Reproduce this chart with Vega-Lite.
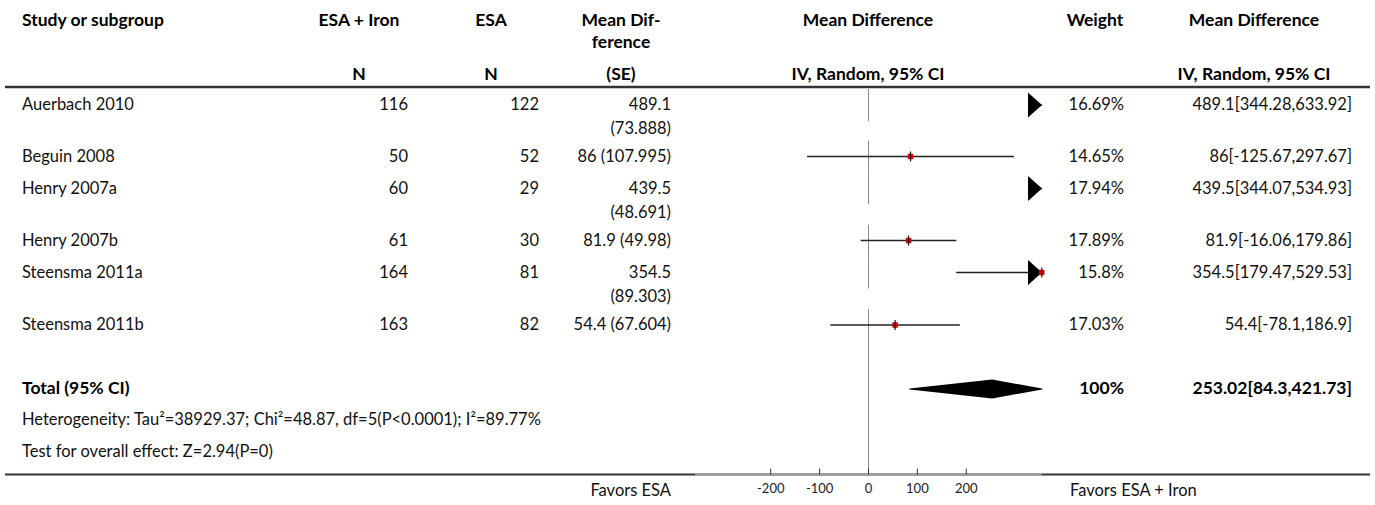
{
  "$schema": "https://vega.github.io/schema/vega-lite/v6.json",
  "width": 1375,
  "height": 474,
  "autosize": {"type": "none"},
  "padding": {"left": 0, "top": 0, "right": 0, "bottom": 31},
  "config": {
    "view": {"stroke": null},
    "text": {"font": "Lato", "fontSize": 16.5, "color": "#111", "baseline": "middle"}
  },
  "datasets": {
    "studies": [
      {"row": 0, "study": "Auerbach 2010", "n1": 116, "n2": 122, "mdse": "489.1\n(73.888)", "md": 489.1, "lo": 344.28, "hi": 633.92, "weight": "16.69%", "ci": "489.1[344.28,633.92]"},
      {"row": 1, "study": "Beguin 2008", "n1": 50, "n2": 52, "mdse": "86 (107.995)", "md": 86, "lo": -125.67, "hi": 297.67, "weight": "14.65%", "ci": "86[-125.67,297.67]"},
      {"row": 2, "study": "Henry 2007a", "n1": 60, "n2": 29, "mdse": "439.5\n(48.691)", "md": 439.5, "lo": 344.07, "hi": 534.93, "weight": "17.94%", "ci": "439.5[344.07,534.93]"},
      {"row": 3, "study": "Henry 2007b", "n1": 61, "n2": 30, "mdse": "81.9 (49.98)", "md": 81.9, "lo": -16.06, "hi": 179.86, "weight": "17.89%", "ci": "81.9[-16.06,179.86]"},
      {"row": 4, "study": "Steensma 2011a", "n1": 164, "n2": 81, "mdse": "354.5\n(89.303)", "md": 354.5, "lo": 179.47, "hi": 529.53, "weight": "15.8%", "ci": "354.5[179.47,529.53]"},
      {"row": 5, "study": "Steensma 2011b", "n1": 163, "n2": 82, "mdse": "54.4 (67.604)", "md": 54.4, "lo": -78.1, "hi": 186.9, "weight": "17.03%", "ci": "54.4[-78.1,186.9]"}
    ],
    "total": [
      {"row": 6, "label": "Total (95% CI)", "md": 253.02, "lo": 84.3, "hi": 421.73, "weight": "100%", "ci": "253.02[84.3,421.73]"}
    ],
    "notes": [
      {"row": 7, "text": "Heterogeneity: Tau²=38929.37; Chi²=48.87, df=5(P<0.0001); I²=89.77%"},
      {"row": 8, "text": "Test for overall effect: Z=2.94(P=0)"}
    ],
    "ticks": [{"v": -200, "label": "-200"}, {"v": -100, "label": "-100"}, {"v": 0, "label": "0"}, {"v": 100, "label": "100"}, {"v": 200, "label": "200"}],
    "one": [{"k": 0}]
  },
  "layer": [
    {
      "layer": [
        {
          "data": {"name": "one"},
          "mark": {"type": "rule", "color": "#333", "strokeWidth": 2.5},
          "encoding": {
            "x": {"datum": 0, "type": "quantitative", "axis": null,
              "scale": {"domain": [0, 1, 2, 3, 4, 5, 6, 7, 8, 9, 10, 11, 12, 13, 14],
                "range": [5, 22, 359, 408, 491, 539, 621, 671, 868, 1070, 1095, 1124, 1254, 1352, 1370],
                "zero": false, "nice": false}},
            "x2": {"datum": 14},
            "y": {"datum": -0.5, "type": "quantitative", "axis": null,
              "scale": {
                "domain": [-2, -1, -0.5, 0, 1, 2, 3, 4, 5, 6, 7, 8, 8.5, 9],
                "range": [21, 75, 87, 105, 156.5, 188.5, 240.5, 272.5, 325, 389, 420, 452, 474.5, 491],
                "zero": false, "nice": false}}
          }
        },
        {
          "data": {"name": "one"},
          "mark": {"type": "rule", "color": "#333", "strokeWidth": 2},
          "encoding": {
            "x": {"datum": 0, "type": "quantitative", "axis": null},
            "x2": {"datum": 14},
            "y": {"datum": 8.5, "type": "quantitative", "axis": null}
          }
        },
        {
          "data": {"name": "one"},
          "mark": {"type": "text", "text": "Study or subgroup", "align": "left", "fontWeight": "bold", "fontSize": 17.5, "color": "#000"},
          "encoding": {"x": {"datum": 1, "type": "quantitative", "axis": null}, "y": {"datum": -2, "type": "quantitative", "axis": null}}
        },
        {
          "data": {"name": "one"},
          "mark": {"type": "text", "text": "ESA + Iron", "align": "center", "fontWeight": "bold", "fontSize": 17.5, "color": "#000"},
          "encoding": {"x": {"datum": 2, "type": "quantitative", "axis": null}, "y": {"datum": -2, "type": "quantitative", "axis": null}}
        },
        {
          "data": {"name": "one"},
          "mark": {"type": "text", "text": "N", "align": "center", "fontWeight": "bold", "fontSize": 17.5, "color": "#000"},
          "encoding": {"x": {"datum": 2, "type": "quantitative", "axis": null}, "y": {"datum": -1, "type": "quantitative", "axis": null}}
        },
        {
          "data": {"name": "one"},
          "mark": {"type": "text", "text": "ESA", "align": "center", "fontWeight": "bold", "fontSize": 17.5, "color": "#000"},
          "encoding": {"x": {"datum": 4, "type": "quantitative", "axis": null}, "y": {"datum": -2, "type": "quantitative", "axis": null}}
        },
        {
          "data": {"name": "one"},
          "mark": {"type": "text", "text": "N", "align": "center", "fontWeight": "bold", "fontSize": 17.5, "color": "#000"},
          "encoding": {"x": {"datum": 4, "type": "quantitative", "axis": null}, "y": {"datum": -1, "type": "quantitative", "axis": null}}
        },
        {
          "data": {"name": "one"},
          "mark": {"type": "text", "text": ["Mean Dif-", "ference"], "align": "center", "baseline": "top", "dy": -9, "lineHeight": 22, "fontWeight": "bold", "fontSize": 17.5, "color": "#000"},
          "encoding": {"x": {"datum": 6, "type": "quantitative", "axis": null}, "y": {"datum": -2, "type": "quantitative", "axis": null}}
        },
        {
          "data": {"name": "one"},
          "mark": {"type": "text", "text": "(SE)", "align": "center", "fontWeight": "bold", "fontSize": 17.5, "color": "#000"},
          "encoding": {"x": {"datum": 6, "type": "quantitative", "axis": null}, "y": {"datum": -1, "type": "quantitative", "axis": null}}
        },
        {
          "data": {"name": "one"},
          "mark": {"type": "text", "text": "Mean Difference", "align": "center", "fontWeight": "bold", "fontSize": 17.5, "color": "#000"},
          "encoding": {"x": {"datum": 8, "type": "quantitative", "axis": null}, "y": {"datum": -2, "type": "quantitative", "axis": null}}
        },
        {
          "data": {"name": "one"},
          "mark": {"type": "text", "text": "IV, Random, 95% CI", "align": "center", "fontWeight": "bold", "fontSize": 17.5, "color": "#000"},
          "encoding": {"x": {"datum": 8, "type": "quantitative", "axis": null}, "y": {"datum": -1, "type": "quantitative", "axis": null}}
        },
        {
          "data": {"name": "one"},
          "mark": {"type": "text", "text": "Weight", "align": "center", "fontWeight": "bold", "fontSize": 17.5, "color": "#000"},
          "encoding": {"x": {"datum": 10, "type": "quantitative", "axis": null}, "y": {"datum": -2, "type": "quantitative", "axis": null}}
        },
        {
          "data": {"name": "one"},
          "mark": {"type": "text", "text": "Mean Difference", "align": "center", "fontWeight": "bold", "fontSize": 17.5, "color": "#000"},
          "encoding": {"x": {"datum": 12, "type": "quantitative", "axis": null}, "y": {"datum": -2, "type": "quantitative", "axis": null}}
        },
        {
          "data": {"name": "one"},
          "mark": {"type": "text", "text": "IV, Random, 95% CI", "align": "center", "fontWeight": "bold", "fontSize": 17.5, "color": "#000"},
          "encoding": {"x": {"datum": 12, "type": "quantitative", "axis": null}, "y": {"datum": -1, "type": "quantitative", "axis": null}}
        },
        {
          "data": {"name": "studies"},
          "mark": {"type": "text", "align": "left"},
          "encoding": {"x": {"datum": 1, "type": "quantitative", "axis": null}, "y": {"field": "row", "type": "quantitative", "axis": null}, "text": {"field": "study"}}
        },
        {
          "data": {"name": "studies"},
          "mark": {"type": "text", "align": "right"},
          "encoding": {"x": {"datum": 3, "type": "quantitative", "axis": null}, "y": {"field": "row", "type": "quantitative", "axis": null}, "text": {"field": "n1"}}
        },
        {
          "data": {"name": "studies"},
          "mark": {"type": "text", "align": "right"},
          "encoding": {"x": {"datum": 5, "type": "quantitative", "axis": null}, "y": {"field": "row", "type": "quantitative", "axis": null}, "text": {"field": "n2"}}
        },
        {
          "data": {"name": "studies"},
          "mark": {"type": "text", "align": "right", "baseline": "top", "dy": -8, "lineBreak": "\n", "lineHeight": 24},
          "encoding": {"x": {"datum": 7, "type": "quantitative", "axis": null}, "y": {"field": "row", "type": "quantitative", "axis": null}, "text": {"field": "mdse"}}
        },
        {
          "data": {"name": "studies"},
          "mark": {"type": "text", "align": "right"},
          "encoding": {"x": {"datum": 11, "type": "quantitative", "axis": null}, "y": {"field": "row", "type": "quantitative", "axis": null}, "text": {"field": "weight"}}
        },
        {
          "data": {"name": "studies"},
          "mark": {"type": "text", "align": "right"},
          "encoding": {"x": {"datum": 13, "type": "quantitative", "axis": null}, "y": {"field": "row", "type": "quantitative", "axis": null}, "text": {"field": "ci"}}
        },
        {
          "data": {"name": "total"},
          "mark": {"type": "text", "align": "left", "fontWeight": "bold", "fontSize": 17.5, "color": "#000"},
          "encoding": {"x": {"datum": 1, "type": "quantitative", "axis": null}, "y": {"field": "row", "type": "quantitative", "axis": null}, "text": {"field": "label"}}
        },
        {
          "data": {"name": "total"},
          "mark": {"type": "text", "align": "right", "fontWeight": "bold", "fontSize": 17.5, "color": "#000"},
          "encoding": {"x": {"datum": 11, "type": "quantitative", "axis": null}, "y": {"field": "row", "type": "quantitative", "axis": null}, "text": {"field": "weight"}}
        },
        {
          "data": {"name": "total"},
          "mark": {"type": "text", "align": "right", "fontWeight": "bold", "fontSize": 17.5, "color": "#000"},
          "encoding": {"x": {"datum": 13, "type": "quantitative", "axis": null}, "y": {"field": "row", "type": "quantitative", "axis": null}, "text": {"field": "ci"}}
        },
        {
          "data": {"name": "notes"},
          "mark": {"type": "text", "align": "left"},
          "encoding": {"x": {"datum": 1, "type": "quantitative", "axis": null}, "y": {"field": "row", "type": "quantitative", "axis": null}, "text": {"field": "text"}}
        },
        {
          "data": {"name": "one"},
          "mark": {"type": "text", "text": "Favors ESA", "align": "right"},
          "encoding": {"x": {"datum": 7, "type": "quantitative", "axis": null}, "y": {"datum": 9, "type": "quantitative", "axis": null}}
        },
        {
          "data": {"name": "one"},
          "mark": {"type": "text", "text": "Favors ESA + Iron", "align": "left"},
          "encoding": {"x": {"datum": 9, "type": "quantitative", "axis": null}, "y": {"datum": 9, "type": "quantitative", "axis": null}}
        }
      ]
    },
    {
      "layer": [
        {
          "data": {"name": "studies"},
          "mark": {"type": "point", "shape": "M0,-1L0,1", "filled": false, "color": "#8a8a8a", "strokeWidth": 1, "opacity": 1, "size": 1024},
          "encoding": {
            "x": {"datum": 0, "type": "quantitative", "axis": null,
              "scale": {"domain": [-355, 355], "range": [695, 1042], "clamp": true, "zero": false, "nice": false}},
            "y": {"field": "row", "type": "quantitative", "axis": null}
          }
        },
        {
          "data": {"name": "one"},
          "mark": {"type": "rule", "color": "#8a8a8a", "strokeWidth": 1},
          "encoding": {
            "x": {"datum": 0, "type": "quantitative", "axis": null},
            "y": {"datum": 5.24, "type": "quantitative", "axis": null},
            "y2": {"datum": 8.5}
          }
        },
        {
          "data": {"name": "one"},
          "mark": {"type": "rule", "color": "#a0a0a0", "strokeWidth": 2.5},
          "encoding": {
            "x": {"datum": -355, "type": "quantitative", "axis": null},
            "x2": {"datum": 355},
            "y": {"datum": 8.5, "type": "quantitative", "axis": null}
          }
        },
        {
          "data": {"name": "ticks"},
          "mark": {"type": "point", "shape": "M0,-1L0,0", "filled": false, "color": "#333", "strokeWidth": 1, "opacity": 1, "size": 144},
          "encoding": {
            "x": {"field": "v", "type": "quantitative", "axis": null},
            "y": {"datum": 8.5, "type": "quantitative", "axis": null}
          }
        },
        {
          "data": {"name": "ticks"},
          "mark": {"type": "text", "font": "Lato", "fontSize": 13, "color": "#222", "align": "center", "dy": -2},
          "encoding": {
            "x": {"field": "v", "type": "quantitative", "axis": null},
            "y": {"datum": 9, "type": "quantitative", "axis": null},
            "text": {"field": "label"}
          }
        },
        {
          "data": {"name": "studies"},
          "mark": {"type": "rule", "color": "#222", "strokeWidth": 1.5},
          "encoding": {
            "x": {"field": "lo", "type": "quantitative", "axis": null},
            "x2": {"field": "hi"},
            "y": {"field": "row", "type": "quantitative", "axis": null}
          }
        },
        {
          "data": {"name": "studies"},
          "transform": [{"filter": "datum.hi > 355"}],
          "mark": {"type": "point", "shape": "M0,0L-1.12,-1L-1.12,1Z", "filled": true, "color": "#000", "opacity": 1, "size": 625},
          "encoding": {"x": {"field": "hi", "type": "quantitative", "axis": null}, "y": {"field": "row", "type": "quantitative", "axis": null}}
        },
        {
          "data": {"name": "studies"},
          "transform": [{"filter": "datum.md <= 355"}],
          "mark": {"type": "point", "shape": "square", "filled": true, "color": "#e00000", "opacity": 1, "size": 30},
          "encoding": {"x": {"field": "md", "type": "quantitative", "axis": null}, "y": {"field": "row", "type": "quantitative", "axis": null}}
        },
        {
          "data": {"name": "studies"},
          "transform": [{"filter": "datum.md <= 355"}],
          "mark": {"type": "point", "shape": "M0,-1L0,1", "filled": false, "color": "#111", "strokeWidth": 1.2, "opacity": 1, "size": 100},
          "encoding": {"x": {"field": "md", "type": "quantitative", "axis": null}, "y": {"field": "row", "type": "quantitative", "axis": null}}
        },
        {
          "data": {"name": "total"},
          "transform": [{"fold": ["lo", "md", "hi"], "as": ["key", "value"]}],
          "mark": {"type": "trail", "color": "#000", "opacity": 1},
          "encoding": {
            "x": {"field": "value", "type": "quantitative", "axis": null},
            "y": {"field": "row", "type": "quantitative", "axis": null},
            "size": {"field": "key", "type": "nominal", "legend": null,
              "scale": {"type": "ordinal", "domain": ["lo", "md", "hi"], "range": [0, 19, 0]}}
          }
        }
      ]
    }
  ],
  "resolve": {"scale": {"x": "independent"}}
}
